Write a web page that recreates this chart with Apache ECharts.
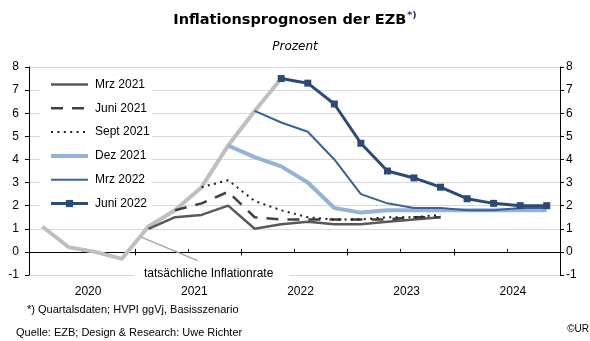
<!DOCTYPE html>
<html><head><meta charset="utf-8">
<script src="https://cdn.jsdelivr.net/npm/echarts@6/dist/echarts.min.js"></script>
<style>html,body{margin:0;padding:0;background:#fff}#c{width:590px;height:341px}</style>
</head><body><div id="c"></div>
<script>
// ---- data ----
const quarters = ['2020Q1','2020Q2','2020Q3','2020Q4','2021Q1','2021Q2','2021Q3','2021Q4',
  '2022Q1','2022Q2','2022Q3','2022Q4','2023Q1','2023Q2','2023Q3','2023Q4',
  '2024Q1','2024Q2','2024Q3','2024Q4'];
const yearLabels = ['2020','2021','2022','2023','2024'];
const yTicks = [-1, 0, 1, 2, 3, 4, 5, 6, 7, 8];

const actualStart = '2020Q1';
const actual = [1.1, 0.2, 0.0, -0.3, 1.1, 1.8, 2.8, 4.6, 6.1, 7.5];
const mrz2021Start = '2021Q1';
const mrz2021 = [1.0, 1.5, 1.6, 2.0, 1.0, 1.2, 1.3, 1.2, 1.2, 1.3, 1.4, 1.5];
const juni2021Start = '2021Q2';
const juni2021 = [1.8, 2.1, 2.6, 1.5, 1.4, 1.4, 1.4, 1.4, 1.4, 1.5, 1.5];
const sept2021Start = '2021Q3';
const sept2021 = [2.8, 3.1, 2.2, 1.8, 1.5, 1.4, 1.4, 1.5, 1.5, 1.6];
const dez2021Start = '2021Q4';
const dez2021 = [4.6, 4.1, 3.7, 3.0, 1.9, 1.7, 1.8, 1.8, 1.8, 1.8, 1.8, 1.8, 1.8];
const mrz2022Start = '2022Q1';
const mrz2022 = [6.1, 5.6, 5.2, 4.0, 2.5, 2.1, 1.9, 1.9, 1.8, 1.8, 1.9, 1.9];
const juni2022Start = '2022Q2';
const juni2022 = [7.5, 7.3, 6.4, 4.7, 3.5, 3.2, 2.8, 2.3, 2.1, 2.0, 2.0];

const annotationText = 'tatsächliche Inflationrate';
const annotationAt = [6.88, -0.94];
const leaderFrom = [4.23, 0.64];
const leaderTo = [6.35, -0.38];

// ---- helpers ----
function pts(start, values) {
  const s = quarters.indexOf(start);
  return values.map((v, i) => [s + i + 0.5, v]);
}
const FONT = 'Liberation Sans, Arial, sans-serif';

const chart = echarts.init(document.getElementById('c'), null, {renderer: 'canvas'});

const legendNames = ['Mrz 2021','Juni 2021','Sept 2021','Dez 2021','Mrz 2022','Juni 2022'];
const styles = {
  'Mrz 2021': {color: '#595959', width: 2.5, type: 'solid', marker: false},
  'Juni 2021': {color: '#404040', width: 2.5, type: [12, 9], marker: false},
  'Sept 2021': {color: '#1f1f1f', width: 2, type: [2, 4.4], marker: false},
  'Dez 2021': {color: '#95b3d7', width: 4, type: 'solid', marker: false},
  'Mrz 2022': {color: '#3a6297', width: 2, type: 'solid', marker: false},
  'Juni 2022': {color: '#2b4a78', width: 3, type: 'solid', marker: true}
};
function lineSeries(name, start, values, extra) {
  const st = styles[name];
  return Object.assign({
    name, type: 'line', xAxisIndex: 0, yAxisIndex: 0,
    data: pts(start, values), symbol: 'none', z: 3,
    lineStyle: {color: st.color, width: st.width, type: st.type},
    itemStyle: {color: st.color}
  }, extra || {});
}

const option = {
  animation: false,
  backgroundColor: '#fff',
  title: [
    {text: '{t|Inflationsprognosen der EZB}{s|*)}', left: 'center', top: 10, padding: 0,
      textStyle: {rich: {
        t: {fontFamily: 'DejaVu Sans', fontWeight: 'bold', fontSize: 14.5, color: '#000', lineHeight: 20},
        s: {fontFamily: 'DejaVu Sans', fontWeight: 'bold', fontSize: 9.5, color: '#3a2868', lineHeight: 20, padding: [0, 0, 9, 1]}
      }}},
    {text: 'Prozent', left: 'center', top: 40, padding: 0,
      textStyle: {fontFamily: 'DejaVu Sans', fontStyle: 'italic', fontWeight: 'normal', fontSize: 12, color: '#000', lineHeight: 14}},
    {text: '*) Quartalsdaten; HVPI ggVj, Basisszenario', left: 27, top: 303.5, padding: 0,
      textStyle: {fontFamily: FONT, fontWeight: 'normal', fontSize: 11, color: '#000', lineHeight: 13}},
    {text: 'Quelle: EZB; Design & Research: Uwe Richter', left: 16, top: 326, padding: 0,
      textStyle: {fontFamily: FONT, fontWeight: 'normal', fontSize: 11, color: '#000', lineHeight: 13}},
    {text: '©UR', right: 1, top: 323.5, padding: 0,
      textStyle: {fontFamily: FONT, fontWeight: 'normal', fontSize: 10, color: '#000', lineHeight: 12}}
  ],
  legend: {
    orient: 'vertical', left: 40, top: 72.5, padding: [6, 2, 6, 9],
    backgroundColor: '#fff', itemWidth: 37, itemHeight: 9, itemGap: 11.8,
    textStyle: {fontFamily: FONT, fontSize: 12, color: '#000', padding: [0, 0, 0, 2]},
    data: legendNames.map(n => ({
      name: n,
      lineStyle: {width: styles[n].width, type: styles[n].type, color: styles[n].color},
      itemStyle: styles[n].marker ? {color: styles[n].color} : {color: 'transparent', borderWidth: 0, opacity: 0}
    }))
  },
  grid: {left: 29, right: 30, top: 67, bottom: 66, containLabel: false},
  xAxis: [
    {type: 'value', min: 0, max: 20, interval: 2, position: 'bottom',
      axisLine: {show: true, onZero: true, onZeroAxisIndex: 0, lineStyle: {color: '#000', width: 1}},
      axisTick: {show: true, inside: true, length: 3, lineStyle: {color: '#000', width: 1}},
      axisLabel: {show: false}, splitLine: {show: false}},
    {type: 'value', min: 0, max: 20, interval: 4, position: 'bottom',
      axisLine: {show: true, onZero: true, onZeroAxisIndex: 0, lineStyle: {color: '#000', width: 1}},
      axisTick: {show: true, inside: false, length: 3.5, lineStyle: {color: '#000', width: 1}},
      axisLabel: {show: false}, splitLine: {show: false}},
    {type: 'value', min: 0, max: 20, interval: 2, position: 'bottom',
      axisLine: {show: false, onZero: false}, axisTick: {show: false}, splitLine: {show: false},
      axisLabel: {show: true, margin: 11, fontFamily: FONT, fontSize: 12, color: '#000', padding: [0, 0, 0, 12],
        formatter: v => (v % 4 === 2 ? yearLabels[(v - 2) / 4] : '')}}
  ],
  yAxis: [
    {type: 'value', position: 'left', min: yTicks[0], max: yTicks[yTicks.length - 1], interval: 1,
      axisLine: {show: true, onZero: false, lineStyle: {color: '#000', width: 1}},
      axisTick: {show: true, length: 4, lineStyle: {color: '#000'}},
      axisLabel: {margin: 10, fontFamily: FONT, fontSize: 12, color: '#000'},
      splitLine: {show: true, lineStyle: {color: '#d9d9d9', width: 1}}},
    {type: 'value', position: 'right', min: yTicks[0], max: yTicks[yTicks.length - 1], interval: 1,
      axisLine: {show: true, onZero: false, lineStyle: {color: '#000', width: 1}},
      axisTick: {show: true, length: 4, lineStyle: {color: '#000'}},
      axisLabel: {margin: 6, fontFamily: FONT, fontSize: 12, color: '#000'},
      splitLine: {show: false}}
  ],
  series: [
    {name: 'tatsächliche Inflationsrate', type: 'line', xAxisIndex: 0, yAxisIndex: 0,
      data: pts(actualStart, actual), symbol: 'none', z: 2,
      lineStyle: {color: '#bfbfbf', width: 4}, itemStyle: {color: '#bfbfbf'},
      markLine: {silent: true, symbol: 'none', label: {show: false},
        lineStyle: {color: '#a6a6a6', width: 1.5, type: 'solid'},
        data: [[{coord: leaderFrom}, {coord: leaderTo}]]},
      markPoint: {silent: true, symbol: 'circle', symbolSize: 0,
        label: {show: true, position: 'inside', formatter: annotationText, fontFamily: FONT, fontSize: 12,
          color: '#000', backgroundColor: '#fff', padding: [3, 16, 3, 10]},
        data: [{coord: annotationAt}]}},
    lineSeries('Mrz 2021', mrz2021Start, mrz2021),
    lineSeries('Juni 2021', juni2021Start, juni2021),
    lineSeries('Sept 2021', sept2021Start, sept2021),
    lineSeries('Dez 2021', dez2021Start, dez2021),
    lineSeries('Mrz 2022', mrz2022Start, mrz2022),
    lineSeries('Juni 2022', juni2022Start, juni2022, {symbol: 'rect', symbolSize: 7, showSymbol: true, z: 4})
  ]
};
chart.setOption(option);
</script></body></html>
